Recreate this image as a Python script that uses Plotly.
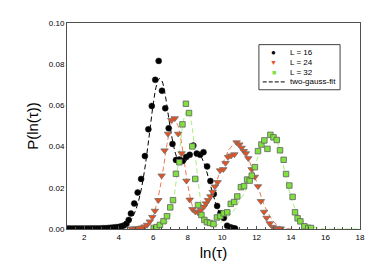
import plotly.graph_objects as go

# ---- data: L = 16 ----
x16 = [1.0, 1.15, 1.3, 1.45, 1.6, 1.75, 1.9, 2.05, 2.2, 2.35, 2.5, 2.65, 2.8, 2.95, 3.1, 3.25,
       3.4, 3.55, 3.7, 3.85, 4.0, 4.15, 4.3, 4.45, 4.58, 4.71, 4.9, 5.1, 5.3, 5.52, 5.72, 5.92,
       6.12, 6.32, 6.51, 6.7, 6.9, 7.12, 7.32, 7.52, 7.72, 7.92, 8.12, 8.33, 8.53, 8.72, 8.92,
       9.13, 9.32, 9.52, 9.71, 9.9, 10.1, 10.29, 10.48, 10.62, 10.75]
y16 = [0.0002, 0.0002, 0.0002, 0.0002, 0.0002, 0.0002, 0.0002, 0.0002, 0.0002, 0.0003, 0.0003,
       0.0003, 0.0003, 0.0003, 0.0004, 0.0004, 0.0005, 0.0006, 0.0007, 0.0009, 0.0010, 0.0013,
       0.0017, 0.0025, 0.0044, 0.0075, 0.0124, 0.0177, 0.0243, 0.0354, 0.0484, 0.0597, 0.0724,
       0.0816, 0.0671, 0.0586, 0.0489, 0.0413, 0.0335, 0.0337, 0.0331, 0.0350, 0.0360, 0.0405,
       0.0366, 0.0360, 0.0373, 0.0304, 0.0233, 0.0170, 0.0112, 0.0076, 0.0054, 0.0016, 0.0008,
       0.0005, 0.0003]

# ---- data: L = 24 ----
x24 = [4.75, 4.9, 5.05, 5.2, 5.35, 5.5, 5.65, 5.8, 5.95, 6.1, 6.3, 6.49, 6.66, 6.86, 7.05, 7.25,
       7.45, 7.65, 7.93, 8.12, 8.28, 8.44, 8.6, 8.77, 8.93, 9.06, 9.18, 9.32, 9.45, 9.58, 9.74,
       9.88, 10.07, 10.2, 10.34, 10.52, 10.71, 10.84, 11.0, 11.13, 11.26, 11.38, 11.52, 11.71,
       11.9, 12.08, 12.25, 12.43, 12.58, 12.76, 12.93, 13.1, 13.25, 13.4]
y24 = [0.0002, 0.0002, 0.0002, 0.0004, 0.0007, 0.0012, 0.0020, 0.0036, 0.0058, 0.0088, 0.0140,
       0.0259, 0.0381, 0.0462, 0.0529, 0.0537, 0.0462, 0.0367, 0.0234, 0.0142, 0.0096, 0.0084,
       0.0080, 0.0092, 0.0108, 0.0124, 0.0140, 0.0158, 0.0180, 0.0206, 0.0227, 0.0284, 0.0290,
       0.0320, 0.0349, 0.0356, 0.0362, 0.0420, 0.0410, 0.0394, 0.0378, 0.0367, 0.0343, 0.0290,
       0.0253, 0.0207, 0.0135, 0.0083, 0.0054, 0.0027, 0.0010, 0.0003, 0.0002, 0.0002]

# ---- data: L = 32 ----
x32 = [6.03, 6.2, 6.39, 6.6, 6.8, 6.99, 7.15, 7.32, 7.52, 7.7, 7.9, 8.08, 8.27, 8.44, 8.6,
       8.8, 8.97, 9.12, 9.3, 9.5, 9.7, 9.9, 10.09, 10.3, 10.5, 10.7, 10.88, 11.09, 11.27, 11.45,
       11.6, 11.72, 11.9, 12.08, 12.28, 12.45, 12.63, 12.8, 12.98, 13.17, 13.36, 13.57, 13.71,
       13.9, 14.09, 14.23, 14.38, 14.54, 14.77, 15.0, 15.15]
y32 = [0.0005, 0.0009, 0.0020, 0.0038, 0.0062, 0.0105, 0.0140, 0.0268, 0.0324, 0.0508, 0.0608,
       0.0563, 0.0401, 0.0243, 0.0116, 0.0068, 0.0044, 0.0033, 0.0029, 0.0024, 0.0056, 0.0062,
       0.0076, 0.0081, 0.0122, 0.0131, 0.0158, 0.0203, 0.0208, 0.0240, 0.0235, 0.0259, 0.0300,
       0.0378, 0.0410, 0.0430, 0.0389, 0.0457, 0.0445, 0.0432, 0.0382, 0.0336, 0.0267, 0.0211,
       0.0156, 0.0081, 0.0052, 0.0037, 0.0013, 0.0005, 0.0005]

# ---- two-gauss fits ----
fx16 = [3.8, 4.2, 4.5, 4.75, 5.0, 5.25, 5.5, 5.75, 6.0, 6.2, 6.35, 6.5, 6.7, 6.9, 7.1, 7.3,
        7.5, 7.7, 7.9, 8.1, 8.3, 8.5, 8.7, 8.9, 9.1, 9.3, 9.5, 9.7, 9.9, 10.1, 10.3, 10.5, 10.8]
fy16 = [0.0000, 0.0005, 0.0020, 0.0048, 0.0095, 0.0170, 0.0285, 0.0440, 0.0605, 0.0700, 0.0730,
        0.0720, 0.0650, 0.0540, 0.0440, 0.0365, 0.0325, 0.0315, 0.0330, 0.0350, 0.0366, 0.0372,
        0.0362, 0.0330, 0.0280, 0.0220, 0.0160, 0.0108, 0.0068, 0.0040, 0.0020, 0.0008, 0.0002]

fx24 = [4.8, 5.2, 5.5, 5.8, 6.0, 6.2, 6.4, 6.6, 6.8, 7.0, 7.2, 7.4, 7.6, 7.8, 8.0, 8.2, 8.4,
        8.6, 8.8, 9.0, 9.2, 9.4, 9.6, 9.8, 10.0, 10.2, 10.4, 10.6, 10.8, 11.0, 11.2, 11.4, 11.6,
        11.8, 12.0, 12.2, 12.4, 12.6, 12.8, 13.0, 13.2, 13.4, 13.6, 13.8, 14.0]
fy24 = [0.0000, 0.0003, 0.0010, 0.0035, 0.0065, 0.0120, 0.0200, 0.0300, 0.0410, 0.0490, 0.0525,
        0.0510, 0.0440, 0.0330, 0.0220, 0.0135, 0.0085, 0.0072, 0.0078, 0.0098, 0.0125, 0.0162,
        0.0210, 0.0260, 0.0310, 0.0350, 0.0385, 0.0405, 0.0412, 0.0405, 0.0388, 0.0362, 0.0325,
        0.0280, 0.0228, 0.0175, 0.0125, 0.0088, 0.0058, 0.0034, 0.0019, 0.0010, 0.0005, 0.0002,
        0.0000]

fx32 = [1.2, 3.0, 5.0, 6.0, 6.4, 6.8, 7.0, 7.2, 7.4, 7.6, 7.8, 8.0, 8.2, 8.4, 8.6, 8.8, 9.0,
        9.2, 9.4, 9.6, 9.8, 10.0, 10.2, 10.4, 10.6, 10.8, 11.0, 11.2, 11.4, 11.6, 11.8, 12.0,
        12.2, 12.4, 12.6, 12.8, 13.0, 13.2, 13.4, 13.6, 13.8, 14.0, 14.2, 14.4, 14.6, 14.8, 15.0,
        15.2, 15.4, 15.6, 15.8, 16.0, 17.0, 18.0]
fy32 = [0.0, 0.0, 0.0, 0.0000, 0.0005, 0.0030, 0.0070, 0.0150, 0.0280, 0.0430, 0.0540, 0.0575,
        0.0525, 0.0390, 0.0240, 0.0115, 0.0048, 0.0022, 0.0014, 0.0016, 0.0024, 0.0036, 0.0050,
        0.0065, 0.0082, 0.0105, 0.0135, 0.0162, 0.0197, 0.0237, 0.0282, 0.0330, 0.0380, 0.0418,
        0.0443, 0.0455, 0.0447, 0.0420, 0.0375, 0.0290, 0.0215, 0.0152, 0.0105, 0.0070, 0.0048,
        0.0030, 0.0020, 0.0013, 0.0008, 0.0004, 0.0002, 0.0000, 0.0, 0.0]

x_ticks = [2, 4, 6, 8, 10, 12, 14, 16, 18]
y_ticks = [0.00, 0.02, 0.04, 0.06, 0.08, 0.10]
legend_labels = ["L = 16", "L = 24", "L = 32", "two-gauss-fit"]

RED = "#E8501E"
GREEN = "#80E040"
RED_FIT = "#F07850"
GREEN_FIT = "#A8F080"
AX = "#505050"

fig = go.Figure()

# fit lines
for fx, fy, c in [(fx16, fy16, "#000000"), (fx24, fy24, RED_FIT), (fx32, fy32, GREEN_FIT)]:
    fig.add_trace(go.Scatter(x=fx, y=fy, mode="lines",
                             line=dict(color=c, width=1, dash="5px,3px", shape="spline"),
                             showlegend=False, hoverinfo="skip"))

# data
fig.add_trace(go.Scatter(x=x16, y=y16, mode="markers", name=legend_labels[0], showlegend=False,
                         marker=dict(symbol="circle", size=6, color="#000000", line=dict(color="#202020", width=0.5))))
fig.add_trace(go.Scatter(x=x24, y=y24, mode="markers", name=legend_labels[1], showlegend=False,
                         marker=dict(symbol="triangle-down", size=6.5, color=RED, line=dict(color="#707070", width=0.8))))
fig.add_trace(go.Scatter(x=x32, y=y32, mode="markers", name=legend_labels[2], showlegend=False,
                         marker=dict(symbol="square", size=5.5, color=GREEN, line=dict(color="#606060", width=0.8))))

# compact legend box (paper coordinates)
lx0, lx1, ly0, ly1 = 0.655, 0.932, 0.676, 0.895
fig.add_shape(type="rect", xref="paper", yref="paper", x0=lx0, x1=lx1, y0=ly0, y1=ly1,
              line=dict(color="#404040", width=1), fillcolor="white", layer="above")
row_y = [0.855, 0.810, 0.762, 0.714]
symbols = ["●", "▼", "■", ""]
sym_colors = ["#000000", RED, GREEN, "#000000"]
sym_sizes = [8, 7, 7, 7]
for i, lab in enumerate(legend_labels):
    fig.add_annotation(xref="paper", yref="paper", x=0.705, y=row_y[i], text=symbols[i],
                       showarrow=False, xanchor="center", yanchor="middle",
                       font=dict(size=sym_sizes[i], color=sym_colors[i]))
    fig.add_annotation(xref="paper", yref="paper", x=0.755 if i < 3 else 0.755, y=row_y[i], text=lab,
                       showarrow=False, xanchor="left", yanchor="middle",
                       font=dict(size=8, color="#000000"))
fig.add_shape(type="line", xref="paper", yref="paper", x0=0.668, x1=0.745, y0=row_y[3], y1=row_y[3],
              line=dict(color="#000000", width=1, dash="4px,2px"), layer="above")

fig.update_layout(
    width=385, height=268,
    margin=dict(l=59, r=33, t=11, b=47),
    paper_bgcolor="white", plot_bgcolor="white",
    font=dict(family="Liberation Sans, Arial, sans-serif", color="#000000", size=8),
    showlegend=False,
    xaxis=dict(range=[1, 18], tickvals=x_ticks, ticktext=[str(v) for v in x_ticks],
               showgrid=False, zeroline=False, showline=True, linecolor=AX, linewidth=1,
               mirror=True, ticks="inside", ticklen=3, tickcolor=AX,
               minor=dict(dtick=0.5, ticks="inside", ticklen=2, tickcolor=AX),
               tickfont=dict(size=8),
               title=dict(text="ln(τ)", font=dict(size=15), standoff=6)),
    yaxis=dict(range=[0, 0.1], tickvals=y_ticks, ticktext=[f"{v:.2f}" for v in y_ticks],
               showgrid=False, zeroline=False, showline=True, linecolor=AX, linewidth=1,
               mirror=True, ticks="", tickfont=dict(size=8),
               title=dict(text="P(ln(τ))", font=dict(size=15), standoff=6)),
)

fig.write_html("out.html")
